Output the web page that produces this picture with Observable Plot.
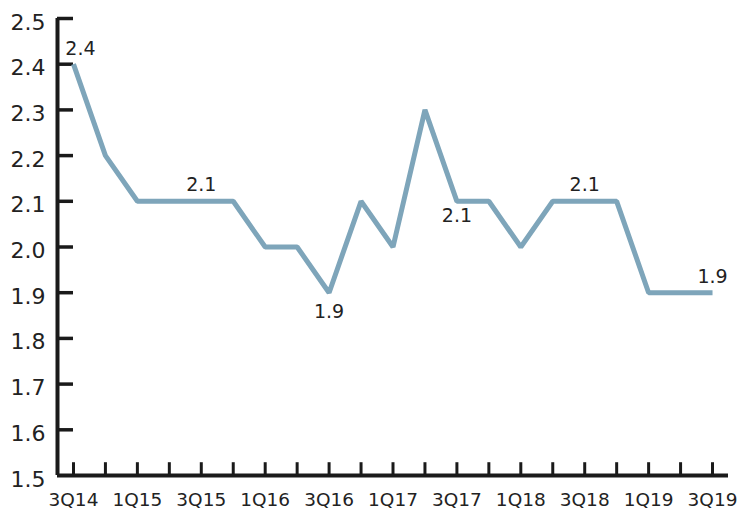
<!DOCTYPE html>
<html>
<head>
<meta charset="utf-8">
<script src="https://cdn.jsdelivr.net/npm/d3@7"></script>
<script src="https://cdn.jsdelivr.net/npm/@observablehq/plot@0.6"></script>
<style>
  html, body { margin: 0; padding: 0; background: #fff; }
  #chart { width: 750px; height: 524px; }
</style>
</head>
<body>
<div id="chart"></div>
<script>
const quarters = ["3Q14","4Q14","1Q15","2Q15","3Q15","4Q15","1Q16","2Q16","3Q16","4Q16","1Q17","2Q17","3Q17","4Q17","1Q18","2Q18","3Q18","4Q18","1Q19","2Q19","3Q19"];
const values = [2.4,2.2,2.1,2.1,2.1,2.1,2.0,2.0,1.9,2.1,2.0,2.3,2.1,2.1,2.0,2.1,2.1,2.1,1.9,1.9,1.9];
const yTicks = [1.5,1.6,1.7,1.8,1.9,2.0,2.1,2.2,2.3,2.4,2.5];
const xTickLabels = ["3Q14","1Q15","3Q15","1Q16","3Q16","1Q17","3Q17","1Q18","3Q18","1Q19","3Q19"];

const data = quarters.map((q, i) => ({q, i, v: values[i]}));
const idx = q => quarters.indexOf(q);

const font = "'DejaVu Sans', Verdana, sans-serif";
const plot = Plot.plot({
  width: 750,
  height: 524,
  marginLeft: 57,
  marginRight: 22,
  marginTop: 18,
  marginBottom: 49,
  style: {fontFamily: font, fontSize: "20px", color: "#222", background: "#fff"},
  x: {domain: [-0.5, quarters.length - 0.5], axis: null},
  y: {domain: [1.5, 2.5], axis: null},
  marks: [
    Plot.ruleY([1.5], {x1: -0.5, x2: quarters.length - 0.5, stroke: "#1a1a1a", strokeWidth: 4}),
    Plot.ruleX([-0.5], {y1: 1.5, y2: 2.5, stroke: "#1a1a1a", strokeWidth: 4}),
    Plot.ruleY(yTicks.slice(1), {y: d => d, x1: -0.5, x2: 0, stroke: "#1a1a1a", strokeWidth: 3.5}),
    Plot.ruleX(data, {x: "i", y1: 1.5, y2: 1.5 + 0.028, stroke: "#1a1a1a", strokeWidth: 3}),
    Plot.text(yTicks, {x: -0.5, y: d => d, text: d => d.toFixed(1), textAnchor: "end", dx: -12, dy: 4, fontSize: 22, fill: "#222"}),
    Plot.text(xTickLabels, {x: d => idx(d), y: 1.5, text: d => d, dy: 25, fontSize: 18.5, fill: "#222"}),
    Plot.line(data, {x: "i", y: "v", stroke: "#7ea5ba", strokeWidth: 5, strokeLinejoin: "miter", strokeLinecap: "butt"}),
    Plot.text(data.filter(d => d.q === "3Q14"), {x: "i", y: "v", text: d => d.v.toFixed(1), dx: 7, dy: -15, fontSize: 19, fill: "#222"}),
    Plot.text(data.filter(d => ["3Q15","3Q18","3Q19"].includes(d.q)), {x: "i", y: "v", text: d => d.v.toFixed(1), dy: -16, fontSize: 19, fill: "#222"}),
    Plot.text(data.filter(d => d.q === "3Q16"), {x: "i", y: "v", text: d => d.v.toFixed(1), dy: 19, fontSize: 19, fill: "#222"}),
    Plot.text(data.filter(d => d.q === "3Q17"), {x: "i", y: "v", text: d => d.v.toFixed(1), dy: 15, fontSize: 19, fill: "#222"})
  ]
});
document.getElementById("chart").appendChild(plot);
</script>
</body>
</html>
